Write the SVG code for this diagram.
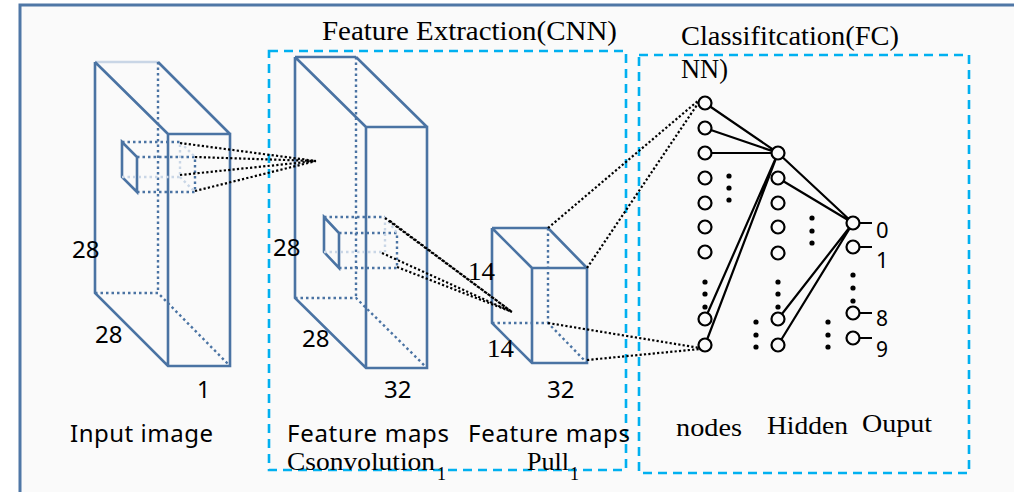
<svg xmlns="http://www.w3.org/2000/svg" width="1014" height="492" viewBox="0 0 1014 492">
<defs>
<style>
.frame{fill:#fafafa;stroke:#4f77a6;stroke-width:3}
.s{stroke:#4a73a3;stroke-width:2.6;fill:none}
.d{stroke:#4a73a3;stroke-width:2.4;fill:none;stroke-dasharray:2.5 3}
.l{stroke:#c9d6e6;stroke-width:2.4;fill:none;stroke-dasharray:2.5 3}
.ls{stroke:#c9d6e6;stroke-width:2.4;fill:none}
.box{fill:none;stroke:#00b0f0;stroke-width:2.6;stroke-dasharray:9 6}
.k{stroke:#000;stroke-width:2.2;fill:none;stroke-dasharray:2.2 2.2}
.e{stroke:#000;stroke-width:2.2;fill:none}
.n{fill:#fafafa;stroke:#000;stroke-width:2.2}
.dot{fill:#000}
.sans{font-family:"Noto Sans","Liberation Sans",sans-serif;fill:#000}
.serif{font-family:"Liberation Serif","DejaVu Serif",serif;fill:#000}
</style>
</defs>
<rect class="frame" x="20" y="5" width="1010" height="500"/>

<g id="box-cnn"><rect class="box" x="269" y="51" width="357" height="419"/></g>
<g id="box-fc"><rect class="box" x="639" y="55" width="330" height="418"/></g>

<g id="input-cube">
<line class="ls" x1="95" y1="62" x2="158" y2="62"/>
<path class="s" d="M95,62 L168,134 M158,62 L230,134 M95,62 V293 L168,366 H230 V134 H168 V366"/>
<path class="d" d="M158,62 V293 M95,293 H158 L230,366"/>
<path class="s" d="M122,142 L137,157 V192 L122,177 Z"/>
<path class="d" d="M122,142 H180 M137,157 H195 V192 H137"/>
<path class="l" d="M122,177 H180 V142 L195,157 M180,177 L195,192"/>
</g>

<g id="conv-cube">
<path class="s" d="M295,57 H356 M295,57 L366,127 M356,57 L427,127 M295,57 V298 L366,368 H427 V127 H366 V368"/>
<path class="d" d="M356,57 V298 M295,298 H356 L427,368"/>
<path class="s" d="M324,217 L339,233 V268 L324,252 Z"/>
<path class="d" d="M324,217 H385 M339,233 H397 V268 H339"/>
<path class="l" d="M324,252 H382 M385,217 V252 M385,217 L397,233"/>
</g>

<g id="pool-cube">
<path class="s" d="M492,228 H548 M492,228 L532,268 M548,228 L587,268 M492,228 V323 L532,363 H587 V268 H532 V363"/>
<path class="d" d="M548,228 V323 M492,323 H548 L587,363"/>
</g>

<g id="connectors">
<path class="k" d="M180,143 L316,161 M195,157 L316,161 M180,175 L316,161 M195,191 L316,161"/>
<path class="k" d="M385,218 L512,312 M390,221 L512,312 M382,253 L512,312 M397,267 L512,312"/>
<path class="k" d="M548,228 L699,100 M587,268 L699,102 M548,323 L700,348 M587,360 L700,349"/>
<path class="e" d="M705,103 L778,153 M705,128 L778,153 M705,153 L778,153 M705,319 L778,153 M705,345 L778,153"/>
<path class="e" d="M778,153 L853,223 M778,178 L853,223 M778,319 L853,223 M778,345 L853,223"/>
<path class="e" d="M853,223 H872 M853,247 H872 M853,313 H872 M853,338 H872"/>
</g>

<g id="fc-input">
<circle class="n" cx="705" cy="103" r="6.5"/>
<circle class="n" cx="705" cy="128" r="6.5"/>
<circle class="n" cx="705" cy="153" r="6.5"/>
<circle class="n" cx="705" cy="178" r="6.5"/>
<circle class="n" cx="705" cy="203" r="6.5"/>
<circle class="n" cx="705" cy="227" r="6.5"/>
<circle class="n" cx="705" cy="252" r="6.5"/>
<circle class="dot" cx="705" cy="282" r="2.6"/>
<circle class="dot" cx="705" cy="294" r="2.6"/>
<circle class="dot" cx="705" cy="307" r="2.6"/>
<circle class="n" cx="705" cy="319" r="6.5"/>
<circle class="n" cx="705" cy="345" r="6.5"/>
<circle class="dot" cx="729" cy="176" r="2.6"/>
<circle class="dot" cx="729" cy="188" r="2.6"/>
<circle class="dot" cx="729" cy="200" r="2.6"/>
<circle class="dot" cx="756" cy="322" r="2.6"/>
<circle class="dot" cx="756" cy="335" r="2.6"/>
<circle class="dot" cx="756" cy="347" r="2.6"/>
</g>

<g id="fc-hidden">
<circle class="n" cx="778" cy="153" r="6.5"/>
<circle class="n" cx="778" cy="178" r="6.5"/>
<circle class="n" cx="778" cy="203" r="6.5"/>
<circle class="n" cx="778" cy="227" r="6.5"/>
<circle class="n" cx="778" cy="253" r="6.5"/>
<circle class="dot" cx="778" cy="282" r="2.6"/>
<circle class="dot" cx="778" cy="294" r="2.6"/>
<circle class="dot" cx="778" cy="307" r="2.6"/>
<circle class="n" cx="778" cy="319" r="6.5"/>
<circle class="n" cx="778" cy="345" r="6.5"/>
<circle class="dot" cx="812" cy="218" r="2.6"/>
<circle class="dot" cx="812" cy="231" r="2.6"/>
<circle class="dot" cx="812" cy="243" r="2.6"/>
<circle class="dot" cx="828" cy="322" r="2.6"/>
<circle class="dot" cx="828" cy="335" r="2.6"/>
<circle class="dot" cx="828" cy="347" r="2.6"/>
</g>

<g id="fc-output">
<circle class="n" cx="853" cy="223" r="6.5"/>
<circle class="n" cx="853" cy="247" r="6.5"/>
<circle class="dot" cx="853" cy="275" r="2.6"/>
<circle class="dot" cx="853" cy="288" r="2.6"/>
<circle class="dot" cx="853" cy="301" r="2.6"/>
<circle class="n" cx="853" cy="313" r="6.5"/>
<circle class="n" cx="853" cy="338" r="6.5"/>
<text class="sans" x="876" y="238" font-size="22">0</text>
<text class="sans" x="876" y="268" font-size="22">1</text>
<text class="sans" x="876" y="326" font-size="21">8</text>
<text class="sans" x="876" y="357" font-size="21">9</text>
</g>

<g id="labels">
<text class="serif" x="322" y="40" font-size="28" textLength="295" lengthAdjust="spacingAndGlyphs">Feature Extraction(CNN)</text>
<text class="serif" x="681" y="45" font-size="28" textLength="218" lengthAdjust="spacingAndGlyphs">Classifitcation(FC)</text>
<text class="serif" x="681" y="78" font-size="28" textLength="47" lengthAdjust="spacingAndGlyphs">NN)</text>
<text class="sans" x="72" y="258" font-size="24">28</text>
<text class="sans" x="95" y="343" font-size="24">28</text>
<text class="sans" x="197" y="398" font-size="23">1</text>
<text class="sans" x="273" y="256" font-size="24">28</text>
<text class="sans" x="302" y="347" font-size="24">28</text>
<text class="sans" x="384" y="398" font-size="24">32</text>
<text class="serif" x="468" y="280" font-size="25" textLength="27" lengthAdjust="spacingAndGlyphs">14</text>
<text class="serif" x="487" y="357" font-size="25" textLength="27" lengthAdjust="spacingAndGlyphs">14</text>
<text class="sans" x="547" y="398" font-size="24">32</text>
<text class="sans" x="70" y="442" font-size="24" textLength="143" lengthAdjust="spacing">Input image</text>
<text class="sans" x="287" y="442" font-size="24" textLength="162" lengthAdjust="spacing">Feature maps</text>
<text class="sans" x="468" y="442" font-size="24" textLength="162" lengthAdjust="spacing">Feature maps</text>
<text class="serif" x="287" y="470" font-size="26" textLength="148" lengthAdjust="spacingAndGlyphs">Csonvolution</text>
<text class="serif" x="437" y="480" font-size="18">1</text>
<text class="serif" x="527" y="470" font-size="26" textLength="42" lengthAdjust="spacingAndGlyphs">Pull</text>
<text class="serif" x="570" y="480" font-size="18">1</text>
<text class="serif" x="676" y="436" font-size="26" textLength="66" lengthAdjust="spacingAndGlyphs">nodes</text>
<text class="serif" x="767" y="434" font-size="26" textLength="81" lengthAdjust="spacingAndGlyphs">Hidden</text>
<text class="serif" x="862" y="432" font-size="26" textLength="70" lengthAdjust="spacingAndGlyphs">Ouput</text>
</g>
</svg>
